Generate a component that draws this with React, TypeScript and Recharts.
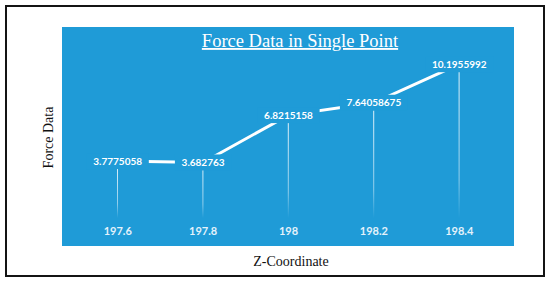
import React from 'react';
import { ComposedChart, Line, Bar, XAxis, YAxis, LabelList } from 'recharts';

const zCoords = ['197.6', '197.8', '198', '198.2', '198.4'];
const forceValues = [3.7775058, 3.682763, 6.8215158, 7.64058675, 10.1955992];

const BLUE = '#1f9bd7';

const data = zCoords.map((z, i) => ({ z, force: forceValues[i] }));

// data label: blue box that hides the line behind the number
const PointLabel = (props: any) => {
  const { x, y, value } = props;
  const text = String(value);
  const w = text.length * 5.8 + 10;
  return (
    <g>
      <rect x={x - w / 2} y={y - 8} width={w} height={16} fill={BLUE} />
      <text
        x={x}
        y={y + 3.5}
        textAnchor="middle"
        fill="#ffffff"
        fontFamily="Lato, sans-serif"
        fontWeight={700}
        fontSize={10}
      >
        {text}
      </text>
    </g>
  );
};

export default function App() {
  return (
    <div style={{ position: 'absolute', left: 0, top: 0, width: 550, height: 284, background: '#fff' }}>
      {/* outer frame */}
      <div
        style={{
          position: 'absolute',
          left: 5,
          top: 5,
          width: 536,
          height: 268,
          border: '2px solid #141414',
        }}
      />
      {/* blue panel */}
      <div style={{ position: 'absolute', left: 62, top: 27, width: 452, height: 219, background: BLUE }} />

      <div style={{ position: 'absolute', left: 0, top: 0 }}>
        <ComposedChart
          width={550}
          height={284}
          data={data}
          margin={{ top: 37, right: 48, bottom: 36, left: 75 }}
        >
          <defs>
            <linearGradient id="dropGrad" x1="0" y1="0" x2="0" y2="1">
              <stop offset="0%" stopColor="#ffffff" stopOpacity={0.9} />
              <stop offset="75%" stopColor="#ffffff" stopOpacity={0.5} />
              <stop offset="100%" stopColor="#ffffff" stopOpacity={0} />
            </linearGradient>
          </defs>
          <XAxis
            dataKey="z"
            height={30}
            axisLine={false}
            tickLine={false}
            tickSize={0}
            tickMargin={9}
            tick={{ fill: '#e4f2fb', fontSize: 11, fontWeight: 700, fontFamily: 'Lato, sans-serif' }}
          />
          <YAxis hide domain={[0, 12]} />
          <Bar dataKey="force" barSize={1} fill="url(#dropGrad)" isAnimationActive={false} />
          <Line
            dataKey="force"
            stroke="#ffffff"
            strokeWidth={3}
            dot={false}
            activeDot={false}
            isAnimationActive={false}
          >
            <LabelList dataKey="force" content={PointLabel} />
          </Line>
        </ComposedChart>
      </div>

      <svg width={550} height={284} style={{ position: 'absolute', left: 0, top: 0, pointerEvents: 'none' }}>
        <text
          x={300}
          y={47}
          textAnchor="middle"
          fill="#ffffff"
          fontFamily="'Liberation Serif', 'Times New Roman', serif"
          fontSize={18.5}
          textDecoration="underline"
        >
          Force Data in Single Point
        </text>
        <text
          x={53}
          y={137.5}
          transform="rotate(-90 53 137.5)"
          textAnchor="middle"
          fill="#111"
          fontFamily="'Liberation Serif', 'Times New Roman', serif"
          fontSize={14}
        >
          Force Data
        </text>
        <text
          x={291}
          y={266}
          textAnchor="middle"
          fill="#111"
          fontFamily="'Liberation Serif', 'Times New Roman', serif"
          fontSize={14}
        >
          Z-Coordinate
        </text>
      </svg>
    </div>
  );
}
